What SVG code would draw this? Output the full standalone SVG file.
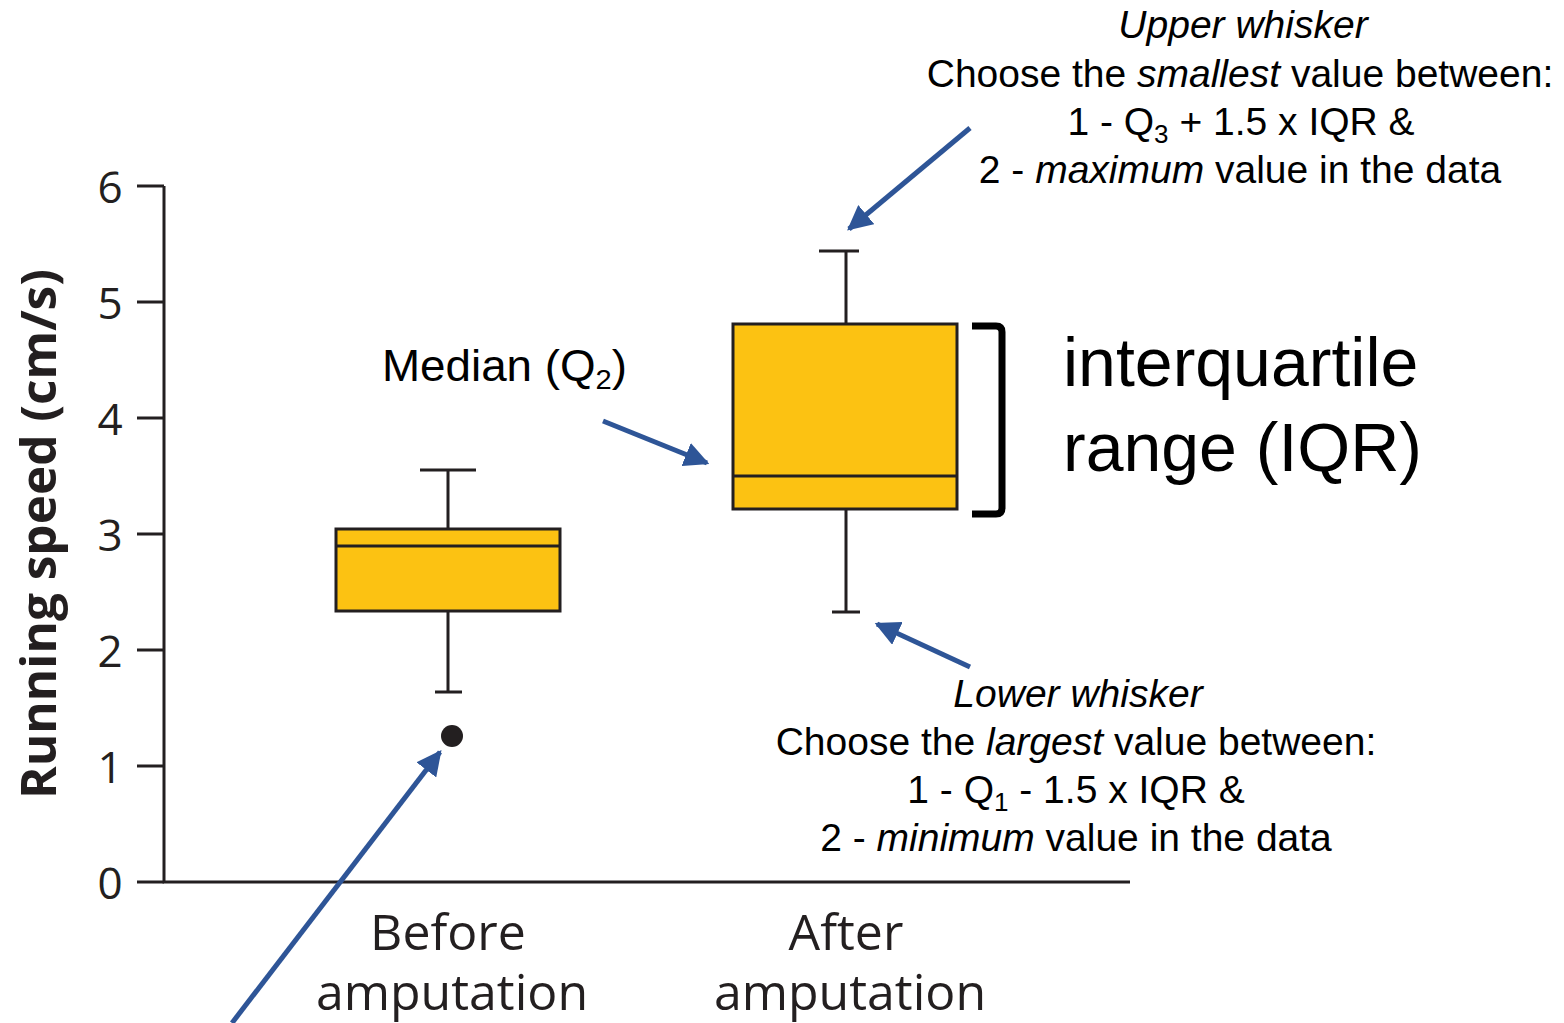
<svg xmlns="http://www.w3.org/2000/svg" width="1564" height="1023" viewBox="0 0 1564 1023">
<style>
.ax{stroke:#231f20;stroke-width:3;fill:none}
.box{fill:#fcc212;stroke:#231f20;stroke-width:3}
.wh{stroke:#231f20;stroke-width:3;fill:none}
.arr{stroke:#2e5597;stroke-width:5;fill:none}
.tick{font-family:"Open Sans","Noto Sans",sans-serif;font-size:44px;fill:#231f20;text-anchor:middle}
.xl{font-family:"Open Sans","Noto Sans",sans-serif;font-size:50px;fill:#231f20;text-anchor:middle}
.ann{font-family:"Liberation Sans",Arial,sans-serif;font-size:39px;fill:#000;text-anchor:middle}
.big{font-family:"Liberation Sans",Arial,sans-serif;font-size:68px;fill:#000}
</style>
<defs>
<marker id="ah" viewBox="0 0 10 10" refX="9" refY="5" markerWidth="5" markerHeight="5" orient="auto" markerUnits="strokeWidth">
<path d="M0,0 L10,5 L0,10 z" fill="#2e5597"/>
</marker>
</defs>
<g id="axes">
<path class="ax" d="M164,186 V882 H1130"/>
<path class="ax" d="M137,186 H164 M137,302 H164 M137,418 H164 M137,534 H164 M137,650 H164 M137,766 H164 M137,882 H164"/>
<text class="tick" x="110" y="203">6</text>
<text class="tick" x="110" y="319">5</text>
<text class="tick" x="110" y="435">4</text>
<text class="tick" x="110" y="551">3</text>
<text class="tick" x="110" y="667">2</text>
<text class="tick" x="110" y="783">1</text>
<text class="tick" x="110" y="899">0</text>
<text transform="translate(56,534) rotate(-90)" font-family="'Open Sans','Noto Sans',sans-serif" font-size="48" font-weight="bold" fill="#231f20" text-anchor="middle" textLength="530" lengthAdjust="spacingAndGlyphs">Running speed (cm/s)</text>
<text class="xl" x="448" y="950">Before</text>
<text class="xl" x="452" y="1010">amputation</text>
<text class="xl" x="846" y="950">After</text>
<text class="xl" x="850" y="1010">amputation</text>
</g>
<g id="box-before">
<path class="wh" d="M448,470 V529 M420,470 H476 M448,611 V692 M435,692 H462"/>
<rect class="box" x="336" y="529" width="224" height="82"/>
<path class="wh" d="M336,546 H560"/>
<circle cx="452" cy="736" r="11" fill="#231f20"/>
</g>
<g id="box-after">
<path class="wh" d="M846,251 V324 M819,251 H859 M846,509 V612 M832,612 H860"/>
<rect class="box" x="733" y="324" width="224" height="185"/>
<path class="wh" d="M733,476 H957"/>
</g>
<g id="iqr-bracket">
<path d="M972,326 H996 Q1002,326 1002,332 V508 Q1002,514 996,514 H972" fill="none" stroke="#000" stroke-width="7"/>
<text class="big" x="1063" y="386">interquartile</text>
<text class="big" x="1063" y="471">range (IQR)</text>
</g>
<g id="median-label">
<text x="382" y="381" font-family="'Liberation Sans',Arial,sans-serif" font-size="44" fill="#000" textLength="245" lengthAdjust="spacingAndGlyphs">Median (Q<tspan font-size="28" dy="8">2</tspan><tspan dy="-8">)</tspan></text>
</g>
<g id="upper-label">
<text class="ann" x="1243" y="38" font-style="italic">Upper whisker</text>
<text class="ann" x="1240" y="87">Choose the <tspan font-style="italic">smallest</tspan> value between:</text>
<text class="ann" x="1241" y="135">1 - Q<tspan font-size="26" dy="8">3</tspan><tspan dy="-8"> + 1.5 x IQR &amp;</tspan></text>
<text class="ann" x="1240" y="183">2 - <tspan font-style="italic">maximum</tspan> value in the data</text>
</g>
<g id="lower-label">
<text class="ann" x="1078" y="707" font-style="italic">Lower whisker</text>
<text class="ann" x="1076" y="755">Choose the <tspan font-style="italic">largest</tspan> value between:</text>
<text class="ann" x="1076" y="803">1 - Q<tspan font-size="26" dy="8">1</tspan><tspan dy="-8"> - 1.5 x IQR &amp;</tspan></text>
<text class="ann" x="1076" y="851">2 - <tspan font-style="italic">minimum</tspan> value in the data</text>
</g>
<g id="connectors">
<path class="arr" d="M970,128 L849,229" marker-end="url(#ah)"/>
<path class="arr" d="M603,421 L707,463" marker-end="url(#ah)"/>
<path class="arr" d="M970,667 L877,624" marker-end="url(#ah)"/>
<path class="arr" d="M232,1023 L440,752" marker-end="url(#ah)"/>
</g>
</svg>
